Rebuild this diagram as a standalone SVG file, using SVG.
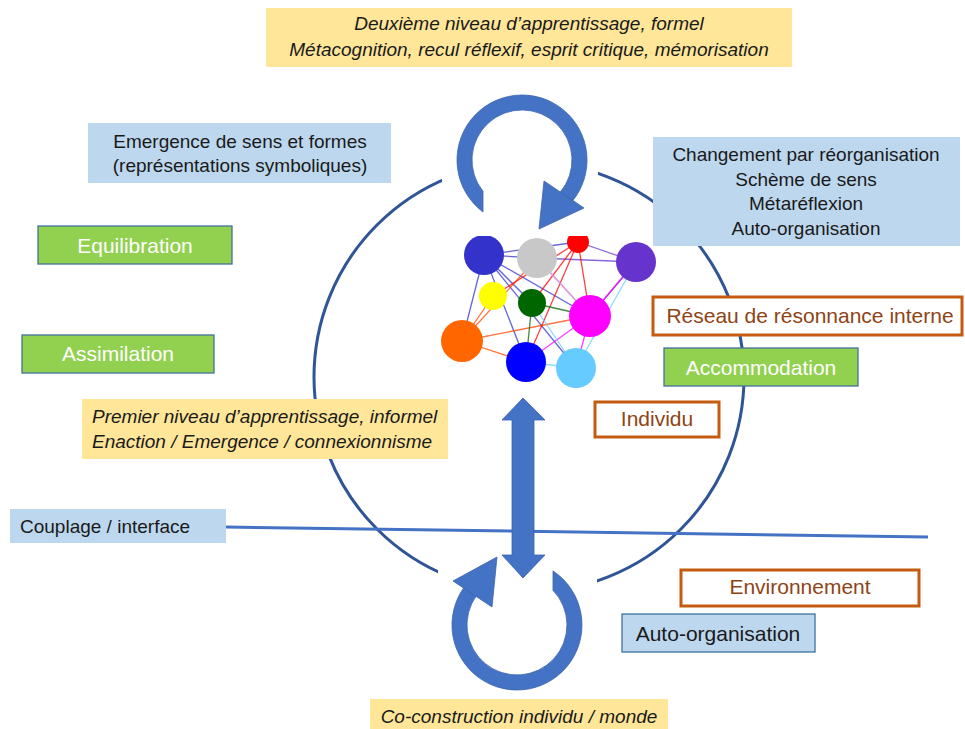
<svg xmlns="http://www.w3.org/2000/svg" width="965" height="729" viewBox="0 0 965 729">
<style>
.t{font-family:"Liberation Sans",Arial,sans-serif;font-size:19px;fill:#1a1a1a}
.i{font-style:italic}
.c{text-anchor:middle}
.w{fill:#fff;font-size:21px}
.o{fill:#8F4416;font-size:21px}
.b21{font-size:21px}
.yel{fill:#FFE699}
.blu{fill:#BDD7EE}
.grn{fill:#92D050;stroke:#41719C;stroke-width:1.3}
.org{fill:#fff;stroke:#C55A11;stroke-width:3}
.arr{fill:#4472C4;stroke:#3A63AD;stroke-width:0.8}
.e{stroke-width:1.3;opacity:0.75;fill:none}
</style>
<defs>
<clipPath id="netclip"><rect x="440" y="236" width="220" height="154"/></clipPath>
</defs>
<g id="connectors">
<circle cx="529" cy="377" r="215" fill="none" stroke="#2F5597" stroke-width="3"/>
<line x1="226" y1="527" x2="928" y2="537" stroke="#4472C4" stroke-width="3"/>
</g>
<g id="top-loop">
<rect x="442" y="87" width="156" height="145" fill="#fff"/>
<path class="arr" d="M483,191.3 L483,212 A65,65 0 1 1 571.8,201.8 L560.3,192.1 A50,50 0 1 0 483,191.3 Z"/>
<polygon class="arr" points="544,181 584,208 539,229"/>
</g>
<g id="bottom-loop">
<rect x="438" y="548" width="159" height="150" fill="#fff"/>
<path class="arr" d="M553,590.3 L553,570.9 A65,65 0 1 1 464.4,586.8 L476.5,595.6 A50,50 0 1 0 553,590.3 Z"/>
<polygon class="arr" points="453,581 497,557 492,607"/>
</g>
<g id="network" clip-path="url(#netclip)">
<rect x="440" y="236" width="220" height="154" fill="#fff"/>
<g class="e" stroke="#3333CC">
<line x1="484" y1="255" x2="578" y2="242"/>
<line x1="484" y1="255" x2="462" y2="341"/>
<line x1="484" y1="255" x2="526" y2="362"/>
<line x1="484" y1="255" x2="532" y2="303"/>
<line x1="484" y1="255" x2="590" y2="316"/>
<line x1="484" y1="255" x2="576" y2="368"/>
<line x1="484" y1="255" x2="537" y2="258"/>
</g>
<g class="e" stroke="#6633CC">
<line x1="537" y1="258" x2="636" y2="262"/>
<line x1="578" y1="242" x2="636" y2="262"/>
<line x1="590" y1="316" x2="636" y2="262"/>
</g>
<g class="e" stroke="#FF4500">
<line x1="462" y1="341" x2="493" y2="296"/>
<line x1="462" y1="341" x2="537" y2="258"/>
<line x1="462" y1="341" x2="590" y2="316"/>
<line x1="462" y1="341" x2="526" y2="362"/>
</g>
<g class="e" stroke="#FF0000">
<line x1="578" y1="242" x2="493" y2="296"/>
<line x1="578" y1="242" x2="526" y2="362"/>
<line x1="578" y1="242" x2="590" y2="316"/>
<line x1="578" y1="242" x2="532" y2="303"/>
</g>
<g class="e" stroke="#FF00FF">
<line x1="590" y1="316" x2="537" y2="258"/>
<line x1="590" y1="316" x2="526" y2="362"/>
<line x1="590" y1="316" x2="576" y2="368"/>
<line x1="590" y1="316" x2="630" y2="268"/>
</g>
<g class="e" stroke="#006600">
<line x1="532" y1="303" x2="590" y2="316"/>
<line x1="532" y1="303" x2="526" y2="362"/>
</g>
<g class="e" stroke="#66CCFF">
<line x1="576" y1="368" x2="532" y2="303"/>
<line x1="576" y1="368" x2="636" y2="262"/>
<line x1="576" y1="368" x2="526" y2="362"/>
</g>
<g class="e" stroke="#C8C8C8">
<line x1="537" y1="258" x2="590" y2="316"/>
</g>
<circle cx="484" cy="255" r="20" fill="#3333CC"/>
<circle cx="537" cy="258" r="20" fill="#C8C8C8"/>
<circle cx="578" cy="242" r="11" fill="#FF0000"/>
<circle cx="636" cy="262" r="20" fill="#6633CC"/>
<circle cx="493" cy="296" r="14" fill="#FFFF00"/>
<circle cx="532" cy="303" r="14" fill="#006600"/>
<circle cx="590" cy="316" r="21" fill="#FF00FF"/>
<circle cx="462" cy="341" r="21" fill="#FF6600"/>
<circle cx="526" cy="362" r="20" fill="#0000FF"/>
<circle cx="576" cy="368" r="20" fill="#66CCFF"/>
</g>
<g id="double-arrow">
<polygon class="arr" points="523,398 545,420 534,420 534,555 545,555 523,578 502,555 512,555 512,420 502,420"/>
</g>
<g id="n-deuxieme">
<rect class="yel" x="266" y="8" width="526" height="59"/>
<text class="t i c" x="529" y="30">Deuxième niveau d’apprentissage, formel</text>
<text class="t i c" x="529" y="56">Métacognition, recul réflexif, esprit critique, mémorisation</text>
</g>
<g id="n-emergence">
<rect class="blu" x="88" y="123" width="303" height="60"/>
<text class="t c" x="240" y="148">Emergence de sens et formes</text>
<text class="t c" x="240" y="172">(représentations symboliques)</text>
</g>
<g id="n-equilibration">
<rect class="grn" x="38" y="226" width="194" height="38"/>
<text class="t c w" x="135" y="253">Equilibration</text>
</g>
<g id="n-assimilation">
<rect class="grn" x="22" y="335" width="192" height="38"/>
<text class="t c w" x="118" y="361">Assimilation</text>
</g>
<g id="n-premier">
<rect class="yel" x="82" y="399" width="366" height="60"/>
<text class="t i" x="92" y="423">Premier niveau d’apprentissage, informel</text>
<text class="t i" x="92" y="448">Enaction / Emergence / connexionnisme</text>
</g>
<g id="n-couplage">
<rect class="blu" x="10" y="509" width="216" height="34"/>
<text class="t" x="20" y="533">Couplage / interface</text>
</g>
<g id="n-changement">
<rect class="blu" x="653" y="137" width="307" height="109"/>
<text class="t c" x="806" y="161">Changement par réorganisation</text>
<text class="t c" x="806" y="186">Schème de sens</text>
<text class="t c" x="806" y="210">Métaréflexion</text>
<text class="t c" x="806" y="235">Auto-organisation</text>
</g>
<g id="n-reseau">
<rect class="org" x="653" y="297" width="309" height="38"/>
<text class="t c o" x="810" y="323">Réseau de résonnance interne</text>
</g>
<g id="n-accommodation">
<rect class="grn" x="664" y="348" width="194" height="38"/>
<text class="t c w" x="761" y="375">Accommodation</text>
</g>
<g id="n-individu">
<rect class="org" x="595" y="402" width="124" height="35"/>
<text class="t c o" x="657" y="426">Individu</text>
</g>
<g id="n-environnement">
<rect class="org" x="681" y="570" width="238" height="36"/>
<text class="t c o" x="800" y="594">Environnement</text>
</g>
<g id="n-autoorg">
<rect class="blu" x="622" y="614" width="193" height="38" stroke="#41719C" stroke-width="1.3"/>
<text class="t c b21" x="718" y="641">Auto-organisation</text>
</g>
<g id="n-coconstruction">
<rect class="yel" x="370" y="699" width="298" height="30"/>
<text class="t i c" x="519" y="723">Co-construction individu / monde</text>
</g>
</svg>
